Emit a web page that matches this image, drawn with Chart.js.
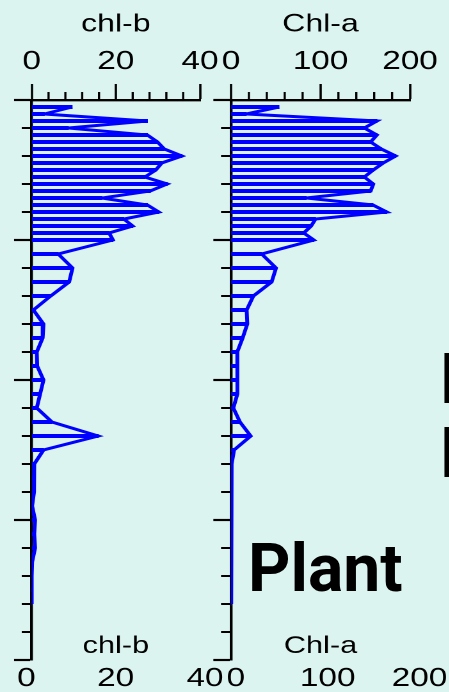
<!DOCTYPE html>
<html><head><meta charset="utf-8">
<script src="https://cdn.jsdelivr.net/npm/chart.js@4"></script>
<style>
html,body{margin:0;padding:0;background:#dcf4f0;width:449px;height:692px;overflow:hidden;}
#wrap{position:relative;width:449px;height:692px;overflow:hidden;}
canvas{position:absolute;left:0;top:0;transform:scaleX(1.28);transform-origin:0 0;}
.big{position:absolute;font-family:'Comic Sans MS','Roboto',sans-serif;font-weight:700;color:#000;line-height:1;white-space:nowrap;}
</style></head><body>
<div id="wrap">
<canvas id="cb" width="351" height="692"></canvas>
<canvas id="ca" width="351" height="692"></canvas>
<div class="big" style="left:248px;top:536px;font-size:66px">Plant</div>
<div class="big" style="left:440px;top:344px;font-size:70px">L</div>
<div class="big" style="left:440px;top:418px;font-size:70px">E</div>
</div>
<script>
// depth of each sample (downwards)
const depth = [1,2,3,4,5,6,7,8,9,10,11,12,13,14,15,16,17,18,19,20,
  22,24,26,28,30,32,34,36,38,40,42,44,46,48,50,52,54,56,58,60,62,64,66,68,70,72];
// chl-b values
const chlB = [9.6,3.0,27.5,8.7,27.5,29.9,31.5,35.7,30.9,29.5,26.9,32.2,28.2,16.7,27.5,30.2,21.9,24.0,18.4,19.3,
  6.3,9.7,8.9,4.5,0.4,2.8,2.6,1.2,1.3,2.8,2.0,1.2,4.8,15.8,2.8,0.6,0.5,0.6,0.1,0.8,0.6,0.8,0.1,0,0,0];
// Chl-a values
const chlA = [53.6,17,163,149,163,156,168,184,170,159,149,159,156,84,158.5,174,94.5,89.5,81.3,92.5,
  34.3,50.3,45.4,25,17.5,18.2,13,7,7,7.4,7,2.6,10,22,3.4,0.7,0.5,0.5,0.3,0.3,0.3,0.3,0.2,0,0,0];
// tick values
const chlBTicks = [0,20,40];
const chlBMinor = [4,8,12,16,24,28,32,36];
const chlATicks = [0,100,200];
const chlAMinor = [20,40,60,80,120,140,160,180];
const depthMajor = [0,20,40,60,80];
const depthMinor = [4,8,12,16,24,28,32,36,44,48,52,56,64,68,72,76];

Chart.defaults.font.family = "'Liberation Sans', Arial, sans-serif";
Chart.defaults.color = '#000';

function minorPlugin(id, xMinor, yMinor) {
  return {
    id: id,
    afterDraw(chart) {
      const {ctx, chartArea, scales} = chart;
      ctx.save();
      ctx.strokeStyle = '#000';
      ctx.lineWidth = 2;
      for (const v of yMinor) {
        const py = scales.y.getPixelForValue(v);
        ctx.beginPath(); ctx.moveTo(chartArea.left - 7.8, py); ctx.lineTo(chartArea.left, py); ctx.stroke();
      }
      ctx.lineWidth = 1.7;
      for (const v of xMinor) {
        const px = scales.x.getPixelForValue(v);
        ctx.beginPath(); ctx.moveTo(px, chartArea.top - 8); ctx.lineTo(px, chartArea.top); ctx.stroke();
      }
      ctx.restore();
    }
  };
}

function zeroPad(s) { s.paddingLeft = 0; s.paddingRight = 0; s.paddingTop = 0; s.paddingBottom = 0; }

function makeChart(id, cfg) {
  const pts = cfg.values.map((v, i) => ({x: v, y: depth[i]}));
  return new Chart(document.getElementById(id), {
    type: 'bar',
    data: { datasets: [
      { type: 'bar', data: pts, backgroundColor: '#0000ff', barThickness: 3.4, borderWidth: 0, xAxisID: 'x', yAxisID: 'y' },
      { type: 'line', data: pts.map(p => ({x: p.x, y: p.y})), borderColor: '#0000ff', borderWidth: 3, pointRadius: 0, fill: false, tension: 0, xAxisID: 'x', yAxisID: 'y' }
    ]},
    options: {
      indexAxis: 'y', responsive: false, animation: false, devicePixelRatio: 2,
      layout: { padding: { left: cfg.padL, right: cfg.padR, top: 0, bottom: 0 } },
      plugins: { legend: { display: false }, tooltip: { enabled: false }, title: { display: false } },
      scales: {
        x: { type: 'linear', position: 'top', min: 0, max: cfg.max, offset: false,
          ticks: { color: '#000', font: { size: 26 }, padding: 6.7, maxRotation: 0, autoSkip: false },
          afterBuildTicks: s => { s.ticks = cfg.topTicks.map(v => ({value: v})); },
          grid: { drawOnChartArea: false, drawTicks: true, tickLength: 16, tickWidth: 1.8, tickColor: '#000', offset: false },
          border: { display: true, color: '#000', width: 2.4 },
          title: { display: true, text: cfg.title, color: '#000', font: { size: 25 }, padding: { top: 9.5, bottom: 0 } },
          afterFit: s => { s.height = 100; zeroPad(s); } },
        x2: { type: 'linear', axis: 'x', position: 'bottom', min: cfg.bMin, max: cfg.bMax, offset: false,
          ticks: { color: '#000', font: { size: 26 }, padding: 3.2, maxRotation: 0, autoSkip: false },
          afterBuildTicks: s => { s.ticks = cfg.topTicks.map(v => ({value: v})); },
          grid: { display: false, drawTicks: false },
          border: { display: false },
          title: { display: true, text: cfg.title, color: '#000', font: { size: 24 }, padding: { top: 0, bottom: 31 } },
          afterFit: s => { s.height = 32; zeroPad(s); } },
        y: { type: 'linear', position: 'left', min: 0, max: 80, reverse: true, offset: false,
          ticks: { display: false },
          afterBuildTicks: s => { s.ticks = depthMajor.map(v => ({value: v})); },
          grid: { drawOnChartArea: false, drawTicks: true, tickLength: 13.8, tickWidth: 2.2, tickColor: '#000', offset: false },
          border: { display: true, color: '#000', width: 2.2 },
          afterFit: s => { s.width = 24.77; zeroPad(s); } }
      }
    },
    plugins: [minorPlugin(id + 'Minor', cfg.minor, depthMinor)]
  });
}

makeChart('cb', { values: chlB, title: 'chl-b', max: 40, topTicks: chlBTicks, minor: chlBMinor,
  padL: 0, padR: 194.75, bMin: 1.209, bMax: 38.88 });
makeChart('ca', { values: chlA, title: 'Chl-a', max: 200, topTicks: chlATicks, minor: chlAMinor,
  padL: 155.7, padR: 30.69, bMin: -5.226, bMax: 189.64 });
</script>
</body></html>
